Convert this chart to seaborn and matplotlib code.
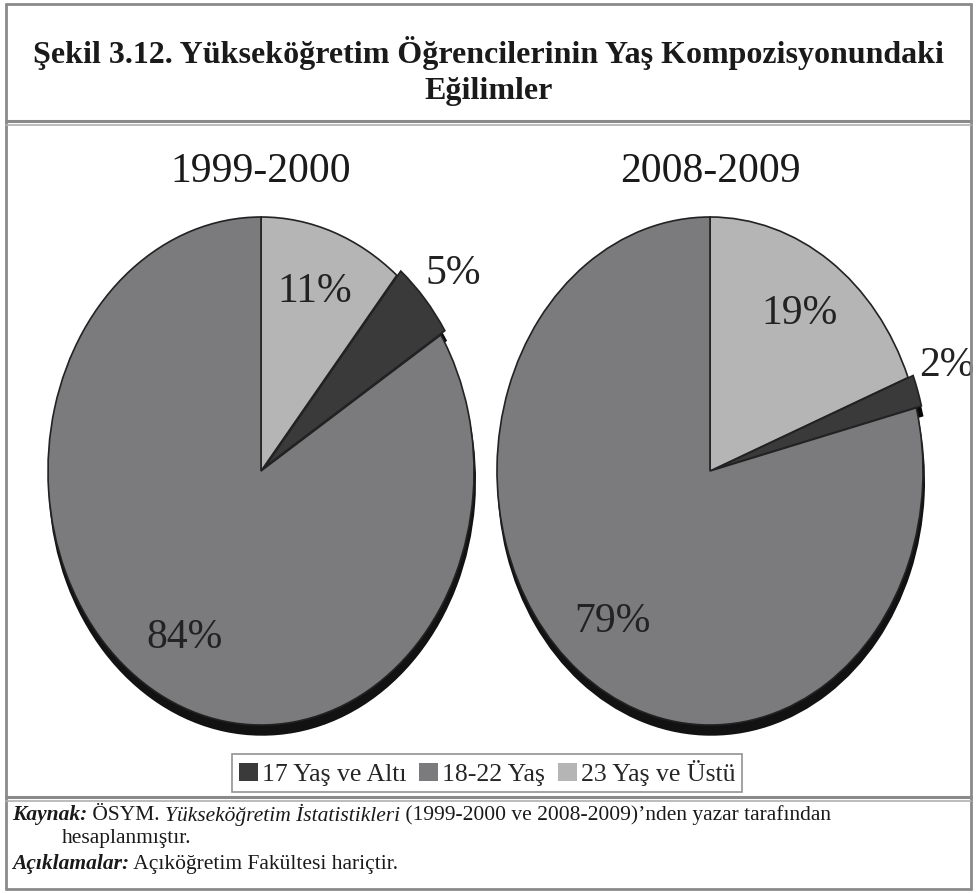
import numpy as np
import matplotlib
matplotlib.use('Agg')
import matplotlib.pyplot as plt
from matplotlib.lines import Line2D
from matplotlib.patches import Patch
import seaborn as sns

# Data
categories = ['17 Yaş ve Altı', '18-22 Yaş', '23 Yaş ve Üstü']
years = ['1999-2000', '2008-2009']
shares_1999 = [5, 84, 11]
shares_2008 = [2, 79, 19]
colors = ['#3a3a3a', '#7b7b7d', '#b5b5b5']
pie_order = [2, 0, 1]  # clockwise from 12 o'clock: 23+, 17-, 18-22

title = 'Şekil 3.12. Yükseköğretim Öğrencilerinin Yaş Kompozisyonundaki\nEğilimler'

sns.set_theme(style='white')
plt.rcParams['font.family'] = ['Liberation Serif', 'DejaVu Serif']

W, H = 977, 893
fig = plt.figure(figsize=(W / 100, H / 100), dpi=100)
fig.patch.set_facecolor('white')


def fx(px):
    return px / W


def fy(py):
    return 1 - py / H


def line(x0, y0, x1, y1, c='#8a8a8a', lw=2.0):
    fig.add_artist(Line2D([fx(x0), fx(x1)], [fy(y0), fy(y1)], color=c, lw=lw))


# frame
line(6, 4, 971, 4)
line(6, 889, 971, 889)
line(6, 4, 6, 889)
line(971, 4, 971, 889)
line(6, 121, 971, 121, lw=2.2)
line(6, 125, 971, 125, c='#b0b0b0', lw=1.2)
line(6, 797, 971, 797, lw=2.2)
line(6, 801, 971, 801, c='#b0b0b0', lw=1.2)

fig.text(0.5, fy(71), title, ha='center', va='center', fontsize=23,
         fontweight='bold', linespacing=1.35, color='#1a1a1a')

# pies
centers = [261, 710]
rx, ry = 213, 254
pad = 1.1
for cx, year, shares in zip(centers, years, [shares_1999, shares_2008]):
    ax = fig.add_axes([fx(cx - rx * pad), fy(471 + ry * pad),
                       2 * rx * pad / W, 2 * ry * pad / H])
    vals = [shares[k] for k in pie_order]
    cols = [colors[k] for k in pie_order]
    explode = [0.025 if k == 0 else 0 for k in pie_order]
    wedges, texts, autotexts = ax.pie(
        vals, colors=cols, startangle=90, counterclock=False,
        explode=explode, autopct='%.0f%%', pctdistance=0.75,
        wedgeprops=dict(edgecolor='#222222', linewidth=1.2),
        shadow=dict(ox=0.004, oy=-0.028, shade=0.85, alpha=1),
        textprops=dict(fontsize=30, color='#222222'))
    ax.set_aspect('auto')
    ax.set_xlim(-pad, pad)
    ax.set_ylim(-pad, pad)
    for w, t, k in zip(wedges, autotexts, pie_order):
        if shares[k] < 8:
            ang = np.deg2rad((w.theta1 + w.theta2) / 2)
            t.set_position((1.03 * np.cos(ang), 1.03 * np.sin(ang) + 0.02))
            t.set_ha('left')
            t.set_va('bottom')
    fig.text(fx(cx), fy(172), year, ha='center', va='center', fontsize=30,
             color='#1a1a1a')

# legend
handles = [Patch(facecolor=c, edgecolor='none') for c in colors]
leg = fig.legend(handles, categories, loc='center',
                 bbox_to_anchor=(fx(487), fy(773)), ncol=3, frameon=True,
                 fancybox=False, edgecolor='#777777', fontsize=18.5,
                 handlelength=0.75, handleheight=0.75, handletextpad=0.15,
                 columnspacing=0.5, borderpad=0.25)
leg.get_frame().set_linewidth(1.2)

# footer
renderer = fig.canvas.get_renderer()


def runs(x, y, parts):
    for txt, style, weight in parts:
        t = fig.text(fx(x), fy(y), txt, fontsize=15.5, style=style,
                     fontweight=weight, ha='left', va='center', color='#1a1a1a')
        x += t.get_window_extent(renderer).width


runs(12, 815, [('Kaynak:', 'italic', 'bold'),
               (' ÖSYM. ', 'normal', 'normal'),
               ('Yükseköğretim İstatistikleri', 'italic', 'normal'),
               (' (1999-2000 ve 2008-2009)’nden yazar tarafından', 'normal', 'normal')])
runs(62, 839, [('hesaplanmıştır.', 'normal', 'normal')])
runs(12, 864, [('Açıklamalar:', 'italic', 'bold'),
               (' Açıköğretim Fakültesi hariçtir.', 'normal', 'normal')])

fig.savefig('out.png', dpi=100, facecolor='white')
